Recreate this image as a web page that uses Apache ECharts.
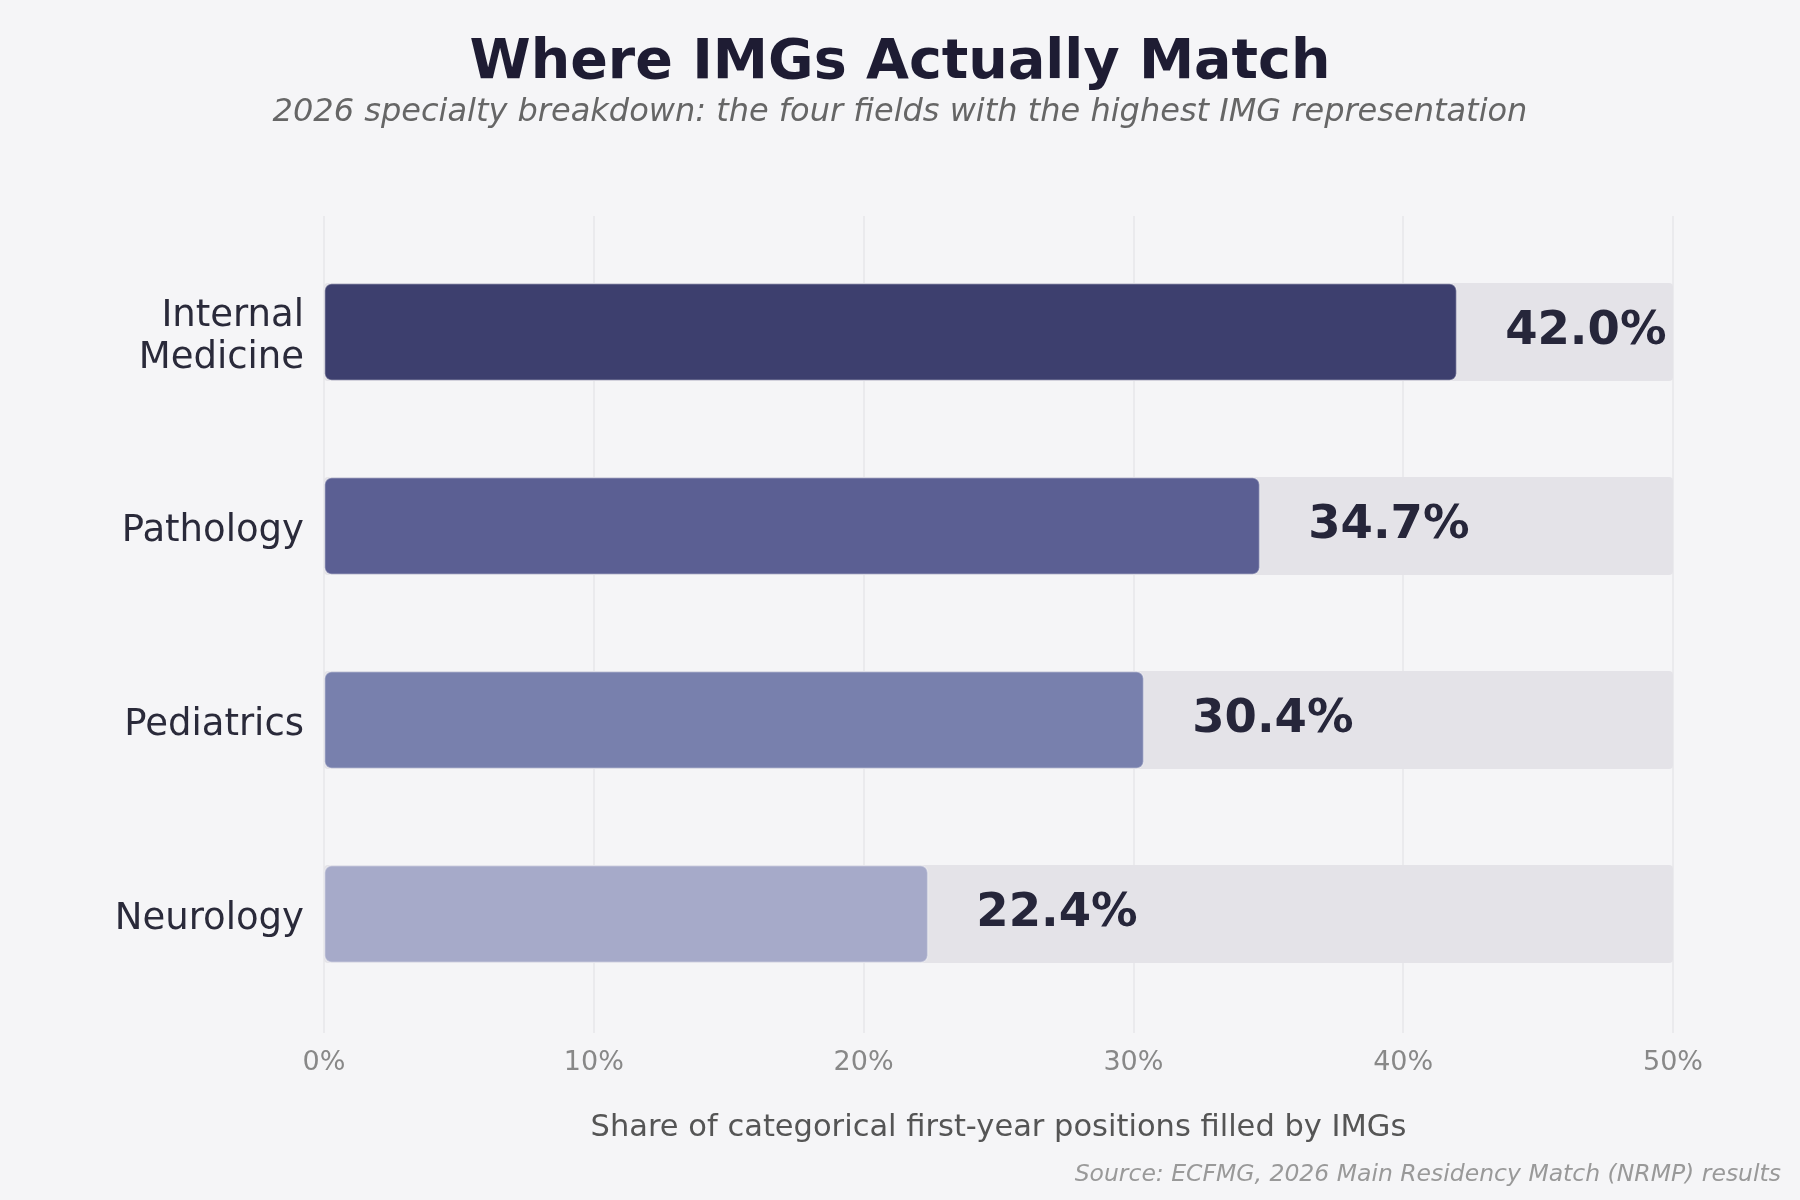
<!DOCTYPE html>
<html>
<head>
<meta charset="utf-8">
<script src="https://cdn.jsdelivr.net/npm/echarts@6/dist/echarts.min.js"></script>
<style>
  html, body { margin: 0; padding: 0; background: #f5f5f7; }
  #chart { width: 1800px; height: 1200px; }
</style>
</head>
<body>
<div id="chart"></div>
<script>
// data
const specialties = ['Internal\nMedicine', 'Pathology', 'Pediatrics', 'Neurology']
const imgShare = [42.0, 34.7, 30.4, 22.4]
const barColors = ['#3d3f6e', '#5b5f93', '#7880ad', '#a6aac9']
const trackMax = [50, 50, 50, 50]
const xTicks = [0, 10, 20, 30, 40, 50]

const FONT = 'DejaVu Sans'

const draw = (dom, option) => {
    const chart = echarts.init(dom)
    chart.clear()
    chart.setOption(option)
    return chart
}

draw(document.getElementById('chart'), {
    backgroundColor: '#f5f5f7',
    animation: false,
    title: [
        {
            text: 'Where IMGs Actually Match',
            left: 'center', top: 31,
            textStyle: { fontFamily: FONT, fontSize: 55.5, fontWeight: 'bold', color: '#1e1c33' }
        },
        {
            text: '2026 specialty breakdown: the four fields with the highest IMG representation',
            left: 'center', top: 91.5,
            textStyle: { fontFamily: FONT, fontSize: 32, fontStyle: 'italic', fontWeight: 'normal', color: '#666666' }
        },
        {
            text: 'Source: ECFMG, 2026 Main Residency Match (NRMP) results',
            right: 14, top: 1158,
            textStyle: { fontFamily: FONT, fontSize: 23.5, fontStyle: 'italic', fontWeight: 'normal', color: '#999999' }
        }
    ],
    grid: [
        // gridlines + tick labels
        { left: 324, right: 127, top: 216, bottom: 167 },
        // bars
        { left: 324, right: 127, top: 235, bottom: 189 },
        // category labels (sit a little lower than the bar centres)
        { left: 324, right: 127, top: 240, bottom: 184 }
    ],
    xAxis: [
        {
            gridIndex: 0, type: 'value', min: xTicks[0], max: xTicks[xTicks.length - 1], interval: 10,
            axisLine: { show: false }, axisTick: { show: false },
            splitLine: { show: true, lineStyle: { color: '#e6e6ea', width: 1.5 } },
            axisLabel: { formatter: '{value}%', fontFamily: FONT, fontSize: 27, color: '#888888', margin: 16 },
            name: 'Share of categorical first-year positions filled by IMGs',
            nameLocation: 'middle', nameGap: 79.5,
            nameTextStyle: { fontFamily: FONT, fontSize: 30.5, color: '#555555' }
        },
        { gridIndex: 1, type: 'value', min: 0, max: 50, show: false },
        { gridIndex: 2, type: 'value', min: 0, max: 50, show: false }
    ],
    yAxis: [
        { gridIndex: 0, type: 'value', show: false },
        {
            gridIndex: 1, type: 'category', inverse: true, data: specialties,
            axisLine: { show: false }, axisTick: { show: false }, axisLabel: { show: false }
        },
        {
            gridIndex: 2, type: 'category', inverse: true, data: specialties,
            axisLine: { show: false }, axisTick: { show: false },
            axisLabel: {
                fontFamily: FONT, fontSize: 37, color: '#2a2a3a', margin: 20,
                lineHeight: 42, align: 'right'
            }
        }
    ],
    series: [
        {
            name: 'track', type: 'bar', xAxisIndex: 1, yAxisIndex: 1,
            data: trackMax, barWidth: 98, barGap: '-100%', silent: true,
            itemStyle: { color: '#e4e3e8', borderRadius: 4 },
            z: 1
        },
        {
            name: 'IMG share', type: 'bar', xAxisIndex: 1, yAxisIndex: 1,
            data: imgShare.map((v, i) => ({
                value: v,
                itemStyle: { color: barColors[i] }
            })),
            barWidth: 98,
            itemStyle: { borderRadius: 7, borderColor: 'rgba(255,255,255,0.35)', borderWidth: 1.5 },
            label: {
                show: true, position: 'right', distance: 48,
                formatter: p => p.value.toFixed(1) + '%',
                fontFamily: FONT, fontSize: 46.5, fontWeight: 'bold', color: '#26263a'
            },
            z: 2
        }
    ]
})
</script>
</body>
</html>
